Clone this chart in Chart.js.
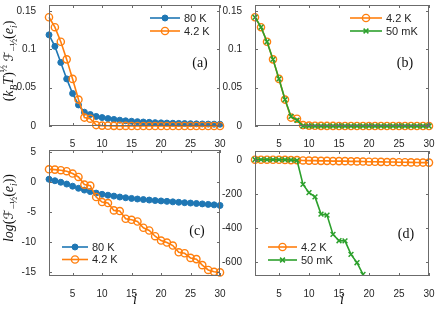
<!DOCTYPE html>
<html>
<head>
<meta charset="utf-8">
<script src="https://cdn.jsdelivr.net/npm/chart.js@4/dist/chart.umd.min.js"></script>
<style>
  body { margin: 0; background: #fff; }
  #wrap { position: relative; width: 436px; height: 312px; overflow: hidden; }
  canvas { position: absolute; left: 0; top: 0; }
  .txt { position: absolute; white-space: nowrap; color: #111; font-family: "Liberation Serif", "DejaVu Serif", serif; transform: translate(-50%, -50%); }
  .ylab { font-size: 14px; transform: translate(-50%, -50%) rotate(-90deg); }
  .ylab sub, .ylab sup { font-size: 68%; line-height: 0; }
  .cal { font-family: "DejaVu Sans", "Noto Sans", serif; font-style: italic; font-size: 92%; }
  .plab { font-size: 14px; }
  .xlab { font-size: 14px; font-style: italic; }
</style>
</head>
<body>
<div id="wrap">
  <canvas id="ca" width="436" height="312"></canvas>
  <canvas id="cb" width="436" height="312"></canvas>
  <canvas id="cc" width="436" height="312"></canvas>
  <canvas id="cd" width="436" height="312"></canvas>
  <div class="txt ylab" style="left:9px; top:61px">(<i>k</i><sub><i>B</i></sub><i>T</i>)<sup>½</sup> <span class="cal">ℱ</span><sub>−½</sub>(<i>e</i><sub><i>i</i></sub>)</div>
  <div class="txt ylab" style="left:9px; top:208px"><i>log</i>(<span class="cal">ℱ</span><sub>−½</sub>(<i>e</i><sub><i>i</i></sub>))</div>
  <div class="txt plab" style="left:200px; top:63px">(a)</div>
  <div class="txt plab" style="left:405px; top:63px">(b)</div>
  <div class="txt plab" style="left:197px; top:231px">(c)</div>
  <div class="txt plab" style="left:406px; top:234px">(d)</div>
  <div class="txt xlab" style="left:135px; top:300px">i</div>
  <div class="txt xlab" style="left:342px; top:300px">i</div>
</div>
<script>
// donnees
const idx = [1, 2, 3, 4, 5, 6, 7, 8, 9, 10, 11, 12, 13, 14, 15, 16, 17, 18, 19, 20, 21, 22, 23, 24, 25, 26, 27, 28, 29, 30];
const xTicks = [5, 10, 15, 20, 25, 30];

// (a) et (b) : (kBT)^1/2 F(e_i)
const fa80 = [0.119, 0.104, 0.083, 0.0615, 0.0425, 0.0275, 0.018, 0.015, 0.0125, 0.011, 0.0097, 0.0086, 0.0076, 0.0068, 0.0062, 0.0057, 0.0052, 0.0048, 0.0044, 0.0041, 0.0038, 0.0036, 0.0034, 0.0032, 0.003, 0.0028, 0.0027, 0.0025, 0.0024, 0.0023];
const fa42 = [0.142, 0.129, 0.110, 0.087, 0.0615, 0.0345, 0.011, 0.0095, 0.0012, 0.0005, 0.0003, 0.0002, 0.0001, 0.0001, 0, 0, 0, 0, 0, 0, 0, 0, 0, 0, 0, 0, 0, 0, 0, 0];
const fb50 = [0.142, 0.129, 0.110, 0.087, 0.0615, 0.0345, 0.0125, 0.0075, 0, 0, 0, 0, 0, 0, 0, 0, 0, 0, 0, 0, 0, 0, 0, 0, 0, 0, 0, 0, 0, 0];
const abTicks = [0, 0.05, 0.1, 0.15];

// (c) et (d) : log F(e_i)
const lc80 = [0.45, 0.2, -0.05, -0.35, -0.7, -1.05, -1.35, -1.6, -1.85, -2.05, -2.2, -2.35, -2.5, -2.62, -2.73, -2.83, -2.92, -3.0, -3.08, -3.15, -3.22, -3.3, -3.37, -3.44, -3.5, -3.57, -3.64, -3.72, -3.8, -3.9];
const lc42 = [2.1, 2.05, 1.95, 1.78, 1.39, 0.83, -0.44, -0.61, -2.5, -3.33, -3.5, -4.72, -4.83, -6.1, -6.28, -6.56, -7.6, -8.05, -9.0, -9.72, -10.05, -10.55, -11.67, -11.83, -12.6, -12.8, -13.8, -14.6, -14.9, -15.0];
const ld50 = [2.9, 2.8, 2.6, 2.4, 2.1, 1.6, 0.5, -2, -143, -191, -216, -317, -323, -436, -473, -474, -553, -602, -671, -745];
const cTicks = [-15, -10, -5, 0, 5];
const dTicks = [-600, -400, -200, 0];

const BLEU = "#1f77b4";
const ORANGE = "#ff7f0e";
const VERT = "#2ca02c";
const CADRE = "#6b6b6b";

function pts(vals) {
  return vals.map((v, k) => ({ x: idx[k], y: v }));
}

function serie(label, vals, style, order, clipBas) {
  const ds = {
    label: label,
    data: pts(vals),
    borderWidth: 1.6,
    order: order,
    clip: { left: 8, right: 8, top: 8, bottom: clipBas },
    pointHoverRadius: 3,
  };
  if (style === "bleu") {
    Object.assign(ds, { borderColor: BLEU, pointStyle: "circle", pointRadius: 3, pointBorderWidth: 1, pointBackgroundColor: BLEU, pointBorderColor: BLEU });
  } else if (style === "orange") {
    Object.assign(ds, { borderColor: ORANGE, pointStyle: "circle", pointRadius: 3.6, pointBorderWidth: 1.4, pointBackgroundColor: "rgba(255,255,255,0)", pointBorderColor: ORANGE });
  } else {
    Object.assign(ds, { borderColor: VERT, pointStyle: "crossRot", pointRadius: 3.4, pointBorderWidth: 1.5, pointBackgroundColor: VERT, pointBorderColor: VERT });
  }
  return ds;
}

// cadre + petites graduations vers l'interieur + legende
const cadre = {
  id: "cadre",
  afterDatasetsDraw(chart, args, opts) {
    const ctx = chart.ctx;
    const a = chart.chartArea;
    const xs = chart.scales.x, ys = chart.scales.y;
    ctx.save();
    ctx.strokeStyle = CADRE;
    ctx.lineWidth = 1;
    ctx.strokeRect(a.left + 0.5, a.top + 0.5, a.right - a.left - 1, a.bottom - a.top - 1);
    ctx.beginPath();
    xs.ticks.forEach((t) => {
      const px = Math.round(xs.getPixelForValue(t.value)) + 0.5;
      ctx.moveTo(px, a.bottom); ctx.lineTo(px, a.bottom - 3);
      ctx.moveTo(px, a.top); ctx.lineTo(px, a.top + 3);
    });
    ys.ticks.forEach((t) => {
      const py = Math.round(ys.getPixelForValue(t.value)) + 0.5;
      ctx.moveTo(a.left, py); ctx.lineTo(a.left + 3, py);
      ctx.moveTo(a.right, py); ctx.lineTo(a.right - 3, py);
    });
    ctx.stroke();
    ctx.restore();
  },
  afterDraw(chart, args, opts) {
    const ctx = chart.ctx;
    chart.data.datasets.forEach((ds, k) => {
      const y = opts.y + k * opts.gap;
      ctx.save();
      ctx.strokeStyle = ds.borderColor;
      ctx.lineWidth = ds.borderWidth;
      ctx.beginPath();
      ctx.moveTo(opts.x, y);
      ctx.lineTo(opts.x + opts.len, y);
      ctx.stroke();
      ctx.fillStyle = ds.pointBackgroundColor;
      ctx.strokeStyle = ds.pointBorderColor;
      ctx.lineWidth = ds.pointBorderWidth;
      Chart.helpers.drawPoint(ctx, { pointStyle: ds.pointStyle, radius: ds.pointRadius, borderWidth: ds.pointBorderWidth, rotation: 0 }, opts.x + opts.len / 2, y);
      ctx.fillStyle = "#262626";
      ctx.font = '11px "Liberation Sans", Arial, sans-serif';
      ctx.textBaseline = "middle";
      ctx.fillText(ds.label, opts.x + opts.len + 4, y + 0.5);
      ctx.restore();
    });
  },
};

const YW = 40, XH = 22;

function panneau(id, zone, yMin, yMax, yTicks, datasets, legende) {
  const fonte = { family: '"Liberation Sans", Arial, sans-serif', size: 10 };
  const config = {
    type: "line",
    data: { datasets: datasets },
    options: {
      responsive: false,
      animation: false,
      layout: {
        padding: { left: zone.l - YW, top: zone.t, right: 436 - zone.r, bottom: 312 - zone.b - XH },
      },
      plugins: { legend: { display: false }, tooltip: { enabled: false }, cadre: legende },
      scales: {
        x: {
          type: "linear", min: 1, max: 30,
          grid: { display: false }, border: { display: false },
          ticks: { font: fonte, color: "#262626", padding: 4, autoSkip: false, maxRotation: 0 },
          afterBuildTicks: (s) => { s.ticks = xTicks.map((v) => ({ value: v })); },
          afterFit: (s) => { s.height = XH; s.paddingLeft = 0; s.paddingRight = 0; },
        },
        y: {
          type: "linear", min: yMin, max: yMax,
          grid: { display: false }, border: { display: false },
          ticks: { font: fonte, color: "#262626", padding: 5, autoSkip: false, callback: (v) => String(v) },
          afterBuildTicks: (s) => { s.ticks = yTicks.map((v) => ({ value: v })); },
          afterFit: (s) => { s.width = YW; s.paddingTop = 0; s.paddingBottom = 0; },
        },
      },
    },
    plugins: [cadre],
  };
  return new Chart(document.getElementById(id), config);
}

panneau("ca", { l: 49, r: 220, t: 2, b: 126 }, 0, 0.158, abTicks,
  [serie("80 K", fa80, "bleu", 1, 8), serie("4.2 K", fa42, "orange", 0, 8)],
  { x: 150, y: 18, gap: 13, len: 30 });

panneau("cb", { l: 255, r: 429, t: 2, b: 126 }, 0, 0.158, abTicks,
  [serie("4.2 K", fa42, "orange", 1, 8), serie("50 mK", fb50, "vert", 0, 8)],
  { x: 350, y: 18, gap: 13, len: 32 });

panneau("cc", { l: 49, r: 220, t: 150, b: 276 }, -15.6, 5.3, cTicks,
  [serie("80 K", lc80, "bleu", 1, 8), serie("4.2 K", lc42, "orange", 0, 8)],
  { x: 62, y: 247, gap: 12.5, len: 26 });

panneau("cd", { l: 255, r: 429, t: 151, b: 276 }, -680, 53, dTicks,
  [serie("4.2 K", lc42, "orange", 1, 0), serie("50 mK", ld50, "vert", 0, 0)],
  { x: 268, y: 247, gap: 13, len: 29 });
</script>
</body>
</html>
